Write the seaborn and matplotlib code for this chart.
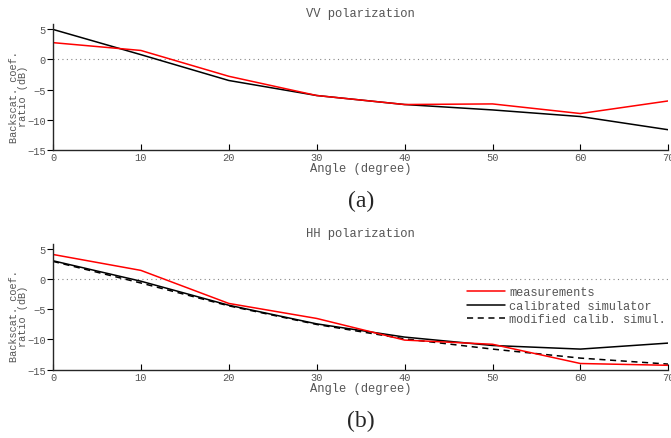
import seaborn as sns
import matplotlib.pyplot as plt
import pandas as pd

# Angles (degree)
angles = [0, 10, 20, 30, 40, 50, 60, 70]

# VV polarization
vv_measured = [2.8, 1.5, -2.8, -6.0, -7.5, -7.4, -9.0, -6.9]
vv_calibrated = [5.0, 0.8, -3.5, -6.0, -7.5, -8.4, -9.5, -11.7]

# HH polarization
hh_measured = [4.15, 1.5, -4.0, -6.5, -10.1, -10.8, -14.0, -14.3]
hh_calibrated = [3.1, -0.3, -4.3, -7.4, -9.6, -11.0, -11.6, -10.6]
hh_modified = [3.0, -0.6, -4.4, -7.5, -9.9, -11.6, -13.1, -14.1]

series_names = ['measurements', 'calibrated simulator', 'modified calib. simul.']

sns.set_style('ticks')
plt.rcParams['font.family'] = ['Liberation Mono', 'DejaVu Sans Mono']
grey = '#555555'

fig = plt.figure(figsize=(6.71, 4.39), dpi=100)
ax1 = fig.add_axes([0.079, 0.657, 0.917, 0.286])
ax2 = fig.add_axes([0.079, 0.156, 0.917, 0.286])

vv = pd.DataFrame({'angle': angles, series_names[0]: vv_measured, series_names[1]: vv_calibrated})
hh = pd.DataFrame({'angle': angles, series_names[0]: hh_measured,
                   series_names[1]: hh_calibrated, series_names[2]: hh_modified})

panels = [(ax1, vv, 'VV polarization', '(a)'), (ax2, hh, 'HH polarization', '(b)')]
for ax, df, title, tag in panels:
    ax.axhline(0, color='#888888', lw=0.8, ls=(0, (1, 3)), zorder=0)
    sns.lineplot(data=df, x='angle', y=series_names[1], ax=ax, color='black', lw=1.1,
                 label=series_names[1] if ax is ax2 else None)
    if series_names[2] in df:
        sns.lineplot(data=df, x='angle', y=series_names[2], ax=ax, color='black', lw=1.1,
                     ls=(0, (4, 3)), label=series_names[2])
    sns.lineplot(data=df, x='angle', y=series_names[0], ax=ax, color='red', lw=1.1,
                 label=series_names[0] if ax is ax2 else None)
    ax.set_xlim(0, 70)
    ax.set_ylim(-15, 5.9)
    ax.set_xticks(angles)
    ax.set_yticks([-15, -10, -5, 0, 5])
    ax.set_yticklabels(['\u221215', '\u221210', '\u22125', '0', '5'])
    ax.tick_params(axis='x', direction='in', length=4, labelsize=7.5, colors=grey, pad=2)
    ax.tick_params(axis='y', direction='out', length=4, labelsize=7.5, colors=grey, pad=1)
    ax.tick_params(axis='both', color='black', width=0.8)
    for s in ['top', 'right']:
        ax.spines[s].set_visible(False)
    for s in ['left', 'bottom']:
        ax.spines[s].set_linewidth(1.0)
    ax.set_title(title, fontsize=8.7, color=grey, pad=5.5)
    ax.set_xlabel('Angle (degree)', fontsize=8.7, color=grey, labelpad=0)
    ax.set_ylabel('Backscat. coef.\nratio (dB)', fontsize=7.4, color=grey, linespacing=0.9)
    ax.yaxis.set_label_coords(-0.041, 0.43)
    ax.text(0.5, -0.405, tag, transform=ax.transAxes, ha='center', va='center',
            fontsize=17, family='Liberation Serif')

# legend only in the HH panel
handles, labels = ax2.get_legend_handles_labels()
order = [labels.index(n) for n in series_names]
ax2.legend([handles[i] for i in order], [labels[i] for i in order],
           loc='upper left', bbox_to_anchor=(0.665, 0.70), frameon=False,
           fontsize=8.6, handlelength=3.2, handletextpad=0.33, labelspacing=0.12,
           labelcolor=grey, borderaxespad=0)

fig.savefig('out.png', dpi=100)
